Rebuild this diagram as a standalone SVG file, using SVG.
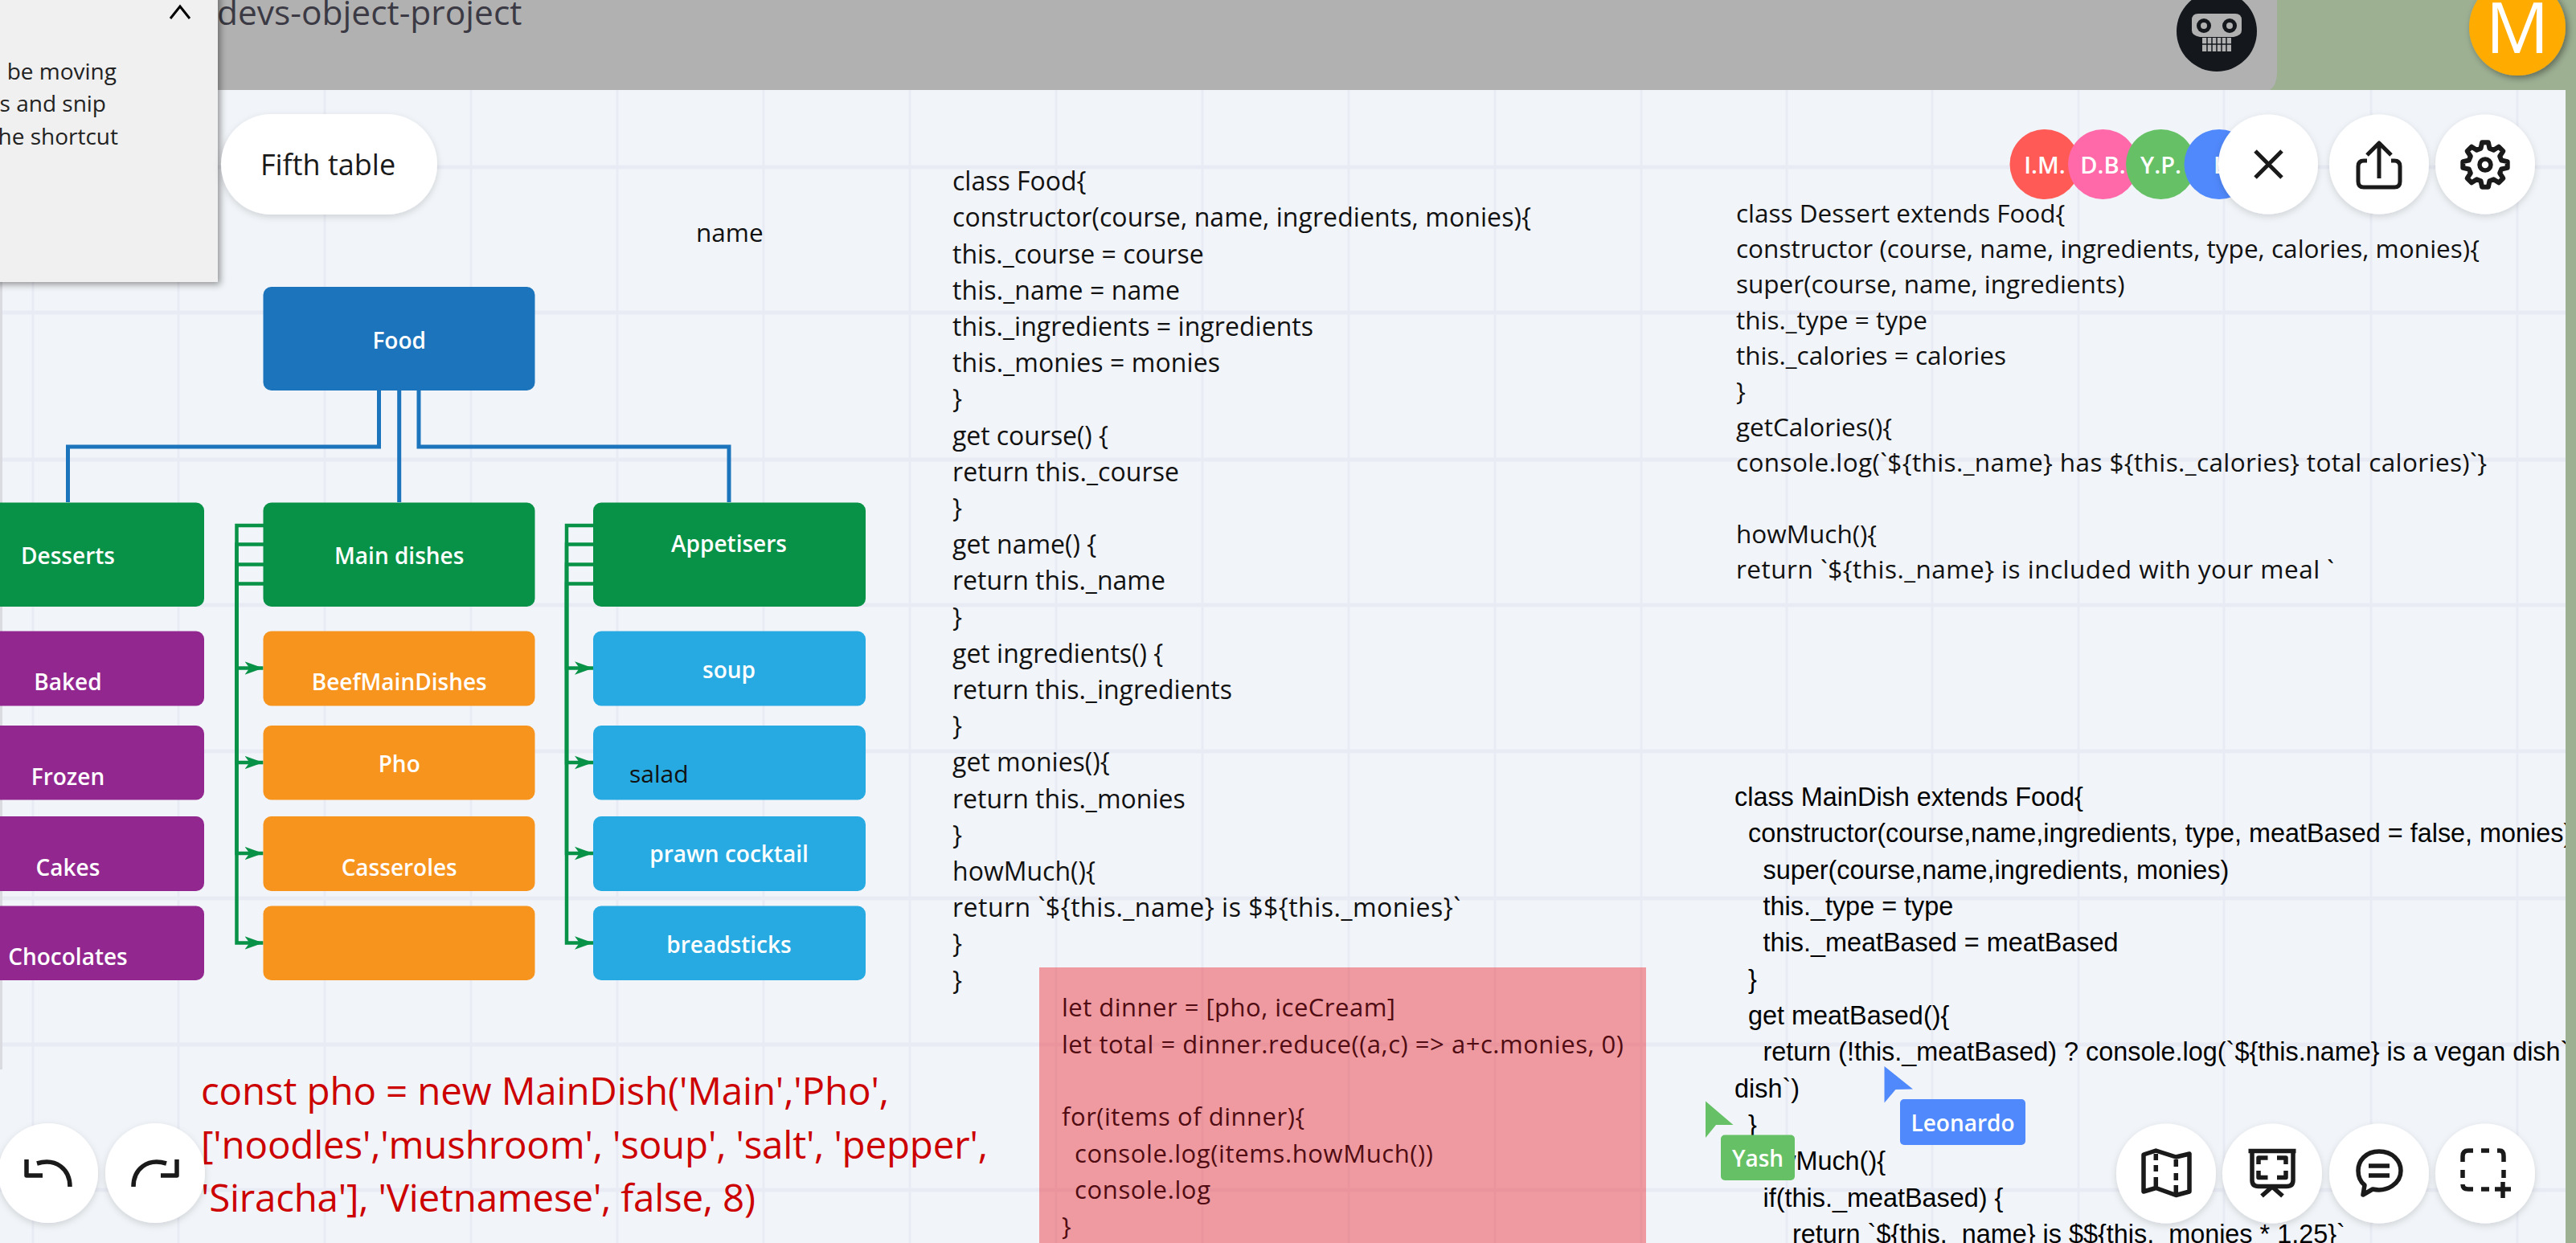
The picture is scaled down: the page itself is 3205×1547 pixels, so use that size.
<svg xmlns="http://www.w3.org/2000/svg" width="3205" height="1547" viewBox="0 0 3205 1547">
<defs>
<style>
text{font-family:"Open Sans","Noto Sans","Liberation Sans",sans-serif}
.nl{fill:#fff;font-size:28px;font-weight:600;text-anchor:middle;dominant-baseline:central}
.code{font-size:32px;fill:#111}
.code2{font-size:31.5px;fill:#111}
.arial{font-family:"Liberation Sans",Arial,sans-serif;font-size:32.4px;fill:#000}
.red{font-size:47.5px;fill:#c00}
.pink{font-size:31px;fill:#500c12}
.btn{fill:#fff;filter:url(#sh)}
.ic{fill:none;stroke:#1a1a1a;stroke-width:5.5;stroke-linejoin:round}
.gv{stroke:#e9ebf4;stroke-width:3}
.gh{stroke:#e9ebf4;stroke-width:5}
.blue{fill:none;stroke:#1c75bc;stroke-width:5}
.green{fill:none;stroke:#079248;stroke-width:4.5;marker-end:url(#ah)}
.av{fill:#fff;font-size:29px;font-weight:600;text-anchor:middle;dominant-baseline:central}
.cat{fill:#079248}.pur{fill:#92278f}.org{fill:#f7941e}.cy{fill:#27aae1}
</style>
<marker id="ah" markerUnits="userSpaceOnUse" markerWidth="24" markerHeight="24" refX="23" refY="12" orient="auto"><path d="M0 3.7L23 12L0 20.3L6 12Z" fill="#079248"/></marker>
<filter id="sh" x="-20%" y="-20%" width="140%" height="140%"><feDropShadow dx="0" dy="3" stdDeviation="4" flood-color="#000" flood-opacity=".14"/></filter>
<filter id="sh2" x="-20%" y="-20%" width="140%" height="140%"><feDropShadow dx="3" dy="3" stdDeviation="4" flood-color="#000" flood-opacity=".4"/></filter>
<clipPath id="cv"><rect x="0" y="112" width="3192" height="1435"/></clipPath>
</defs>
<rect width="3205" height="1547" fill="#9db092"/>
<g id="canvas">
<rect x="0" y="112" width="3192" height="1435" fill="#f1f4f8"/>
<path class="gv" d="M41 112V1547M222 112V1547M404 112V1547M586 112V1547M768 112V1547M950 112V1547M1132 112V1547M1314 112V1547M1496 112V1547M1678 112V1547M1860 112V1547M2042 112V1547M2223 112V1547M2404 112V1547M2586 112V1547M2767 112V1547M2950 112V1547M3132 112V1547"/>
<path class="gh" d="M0 208H3192M0 389H3192M0 572H3192M0 753H3192M0 935H3192M0 1118H3192M0 1300H3192M0 1481H3192"/>
<rect x="0" y="351" width="3" height="980" fill="#d9dbe0"/>
</g>
<g id="header">
<path d="M0 0H2833V90Q2833 106 2824 112H0Z" fill="#b1b1b1"/>
<text x="270" y="31" font-size="42.5" fill="#3b3a44">devs-object-project</text>
</g>
<g id="connectors">
<path class="blue" d="M471.5 486V556H84.5V625"/>
<path class="blue" d="M496.7 486V625"/>
<path class="blue" d="M521 486V556H907V625"/>
<path class="green" d="M328 654H294.5V831.5H327.5"/>
<path class="green" d="M328 677.5H294.5V949H327.5"/>
<path class="green" d="M328 702.5H294.5V1062H327.5"/>
<path class="green" d="M328 726.5H294.5V1173.5H327.5"/>
<path class="green" d="M738 654H705V831.5H738"/>
<path class="green" d="M738 677.5H705V949H738"/>
<path class="green" d="M738 702.5H705V1062H738"/>
<path class="green" d="M738 726.5H705V1173.5H738"/>
</g>
<g id="n-food"><rect x="327.5" y="357" width="338" height="129" rx="10" fill="#1c75bc"/><text class="nl" x="496.7" y="423">Food</text></g>
<g id="n-desserts"><rect x="-20" y="625.5" width="274" height="129.5" rx="10" class="cat"/><text class="nl" x="84.5" y="691">Desserts</text></g>
<g id="n-main"><rect x="327.5" y="625.5" width="338" height="129.5" rx="10" class="cat"/><text class="nl" x="496.7" y="691">Main dishes</text></g>
<g id="n-app"><rect x="738" y="625.5" width="339" height="129.5" rx="10" class="cat"/><text class="nl" x="907" y="676">Appetisers</text></g>
<g id="n-baked"><rect x="-20" y="785.5" width="274" height="93" rx="10" class="pur"/><text class="nl" x="84.5" y="847.5">Baked</text></g>
<g id="n-frozen"><rect x="-20" y="903" width="274" height="92.5" rx="10" class="pur"/><text class="nl" x="84.5" y="965.5">Frozen</text></g>
<g id="n-cakes"><rect x="-20" y="1016" width="274" height="93" rx="10" class="pur"/><text class="nl" x="84.5" y="1078.5">Cakes</text></g>
<g id="n-choc"><rect x="-20" y="1127.5" width="274" height="92.5" rx="10" class="pur"/><text class="nl" x="84.5" y="1189.5">Chocolates</text></g>
<g id="n-beef"><rect x="327.5" y="785.5" width="338" height="93" rx="10" class="org"/><text class="nl" x="496.7" y="847.5">BeefMainDishes</text></g>
<g id="n-pho"><rect x="327.5" y="903" width="338" height="92.5" rx="10" class="org"/><text class="nl" x="496.7" y="950">Pho</text></g>
<g id="n-cass"><rect x="327.5" y="1016" width="338" height="93" rx="10" class="org"/><text class="nl" x="496.7" y="1078.5">Casseroles</text></g>
<g id="n-blank"><rect x="327.5" y="1127.5" width="338" height="92.5" rx="10" class="org"/></g>
<g id="n-soup"><rect x="738" y="785.5" width="339" height="93" rx="10" class="cy"/><text class="nl" x="907" y="832.5">soup</text></g>
<g id="n-salad"><rect x="738" y="903" width="339" height="92.5" rx="10" class="cy"/><text x="783" y="974" font-size="30" fill="#111">salad</text></g>
<g id="n-prawn"><rect x="738" y="1016" width="339" height="93" rx="10" class="cy"/><text class="nl" x="907" y="1062">prawn cocktail</text></g>
<g id="n-bread"><rect x="738" y="1127.5" width="339" height="92.5" rx="10" class="cy"/><text class="nl" x="907" y="1174.5">breadsticks</text></g>
<g id="n-name"><text x="866" y="301" font-size="31.5" fill="#111">name</text></g>
<g id="code-food">
<text class="code" x="1185" y="237">class Food{</text>
<text class="code" x="1185" y="282" textLength="720">constructor(course, name, ingredients, monies){</text>
<text class="code" x="1185" y="327.5">this._course = course</text>
<text class="code" x="1185" y="372.5" textLength="283">this._name = name</text>
<text class="code" x="1185" y="418" textLength="449">this._ingredients = ingredients</text>
<text class="code" x="1185" y="463" textLength="333">this._monies = monies</text>
<text class="code" x="1185" y="508">}</text>
<text class="code" x="1185" y="553.5" textLength="194">get course() {</text>
<text class="code" x="1185" y="598.5" textLength="282">return this._course</text>
<text class="code" x="1185" y="644">}</text>
<text class="code" x="1185" y="689">get name() {</text>
<text class="code" x="1185" y="734">return this._name</text>
<text class="code" x="1185" y="779.5">}</text>
<text class="code" x="1185" y="824.5">get ingredients() {</text>
<text class="code" x="1185" y="870">return this._ingredients</text>
<text class="code" x="1185" y="915">}</text>
<text class="code" x="1185" y="960">get monies(){</text>
<text class="code" x="1185" y="1005.5">return this._monies</text>
<text class="code" x="1185" y="1050.5">}</text>
<text class="code" x="1185" y="1096">howMuch(){</text>
<text class="code" x="1185" y="1141" textLength="632">return `${this._name} is $${this._monies}`</text>
<text class="code" x="1185" y="1186">}</text>
<text class="code" x="1185" y="1231.5">}</text>
</g>
<g id="code-dessert">
<text class="code2" x="2160" y="276.5">class Dessert extends Food{</text>
<text class="code2" x="2160" y="321" textLength="925">constructor (course, name, ingredients, type, calories, monies){</text>
<text class="code2" x="2160" y="365">super(course, name, ingredients)</text>
<text class="code2" x="2160" y="409.5">this._type = type</text>
<text class="code2" x="2160" y="454">this._calories = calories</text>
<text class="code2" x="2160" y="498">}</text>
<text class="code2" x="2160" y="542.5">getCalories(){</text>
<text class="code2" x="2160" y="587" textLength="934">console.log(`${this._name} has ${this._calories} total calories)`}</text>
<text class="code2" x="2160" y="675.5">howMuch(){</text>
<text class="code2" x="2160" y="720" textLength="744">return `${this._name} is included with your meal `</text>
</g>
<g id="code-main" clip-path="url(#cv)">
<text class="arial" x="2158" y="1003">class MainDish extends Food{</text>
<text class="arial" x="2175" y="1048">constructor(course,name,ingredients, type, meatBased = false, monies){</text>
<text class="arial" x="2193.5" y="1093.5">super(course,name,ingredients, monies)</text>
<text class="arial" x="2193.5" y="1139">this._type = type</text>
<text class="arial" x="2193.5" y="1184">this._meatBased = meatBased</text>
<text class="arial" x="2175" y="1229.5">}</text>
<text class="arial" x="2175" y="1275">get meatBased(){</text>
<text class="arial" x="2193.5" y="1320">return (!this._meatBased) ? console.log(`${this.name} is a vegan dish`</text>
<text class="arial" x="2158" y="1365.5">dish`)</text>
<text class="arial" x="2175" y="1411">}</text>
<text class="arial" x="2175" y="1456">howMuch(){</text>
<text class="arial" x="2193.5" y="1501.5">if(this._meatBased) {</text>
<text class="arial" x="2230" y="1547">return `${this._name} is $${this._monies * 1.25}`</text>
</g>
<g id="code-red">
<text class="red" x="250" y="1375" textLength="856">const pho = new MainDish('Main','Pho',</text>
<text class="red" x="250" y="1442" textLength="979">['noodles','mushroom', 'soup', 'salt', 'pepper',</text>
<text class="red" x="250" y="1508" textLength="690">'Siracha'], 'Vietnamese', false, 8)</text>
</g>
<g id="pink-note">
<rect x="1293" y="1204" width="755" height="343" fill="#ec2d35" opacity=".45"/>
<text class="pink" x="1321" y="1265" textLength="415">let dinner = [pho, iceCream]</text>
<text class="pink" x="1321" y="1311" textLength="699">let total = dinner.reduce((a,c) =&gt; a+c.monies, 0)</text>
<text class="pink" x="1321" y="1401" textLength="302">for(items of dinner){</text>
<text class="pink" x="1337" y="1446.5" textLength="446">console.log(items.howMuch())</text>
<text class="pink" x="1337" y="1492" textLength="169">console.log</text>
<text class="pink" x="1321" y="1537">}</text>
</g>
<g id="tip-panel">
<rect x="-10" y="-10" width="281" height="361" fill="#f0f0f0" filter="url(#sh2)"/>
<path d="M212 23L224 8L236 23" fill="none" stroke="#000" stroke-width="3"/>
<text x="145" y="99" text-anchor="end" font-size="28" fill="#222">be moving</text>
<text x="132" y="139" text-anchor="end" font-size="28" fill="#222">s and snip</text>
<text x="147" y="180" text-anchor="end" font-size="28" fill="#222">he shortcut</text>
</g>
<g id="btn-fifth"><rect x="275" y="142" width="269" height="125" rx="62.5" class="btn"/><text x="408" y="218" text-anchor="middle" font-size="36" font-weight="500" fill="#1a1a1a">Fifth table</text></g>
<g id="skull">
<circle cx="2758" cy="39" r="50" fill="#14181d"/>
<path d="M2735 17H2781Q2789 17 2789 25V38Q2789 44 2779 46H2737Q2727 44 2727 38V25Q2727 17 2735 17Z" fill="#b1b1b1"/>
<circle cx="2742" cy="32" r="9" fill="#14181d"/><circle cx="2742" cy="32" r="4" fill="#b1b1b1"/>
<circle cx="2774" cy="32" r="9" fill="#14181d"/><circle cx="2774" cy="32" r="4" fill="#b1b1b1"/>
<rect x="2740" y="47" width="36" height="17" fill="#b1b1b1"/>
<path d="M2746 47V64M2752 47V64M2758 47V64M2764 47V64M2770 47V64M2740 55H2776" stroke="#14181d" stroke-width="1.5"/>
</g>
<g id="user-m"><circle cx="3132" cy="34" r="60" fill="#ffab00" filter="url(#sh2)"/><text x="3132" y="66" text-anchor="middle" font-size="88" font-weight="400" fill="#fff">M</text></g>
<g id="avatars">
<circle cx="2544" cy="204.5" r="43.5" fill="#ff5a55"/><text class="av" x="2544" y="204">I.M.</text>
<circle cx="2616.5" cy="204.5" r="43.5" fill="#ff69a9"/><text class="av" x="2616.5" y="204">D.B.</text>
<circle cx="2688.5" cy="204.5" r="43.5" fill="#66c166"/><text class="av" x="2688.5" y="204">Y.P.</text>
<circle cx="2761" cy="204.5" r="43.5" fill="#5089fc"/><text class="av" x="2754" y="204" style="text-anchor:start">L</text>
</g>
<g id="btn-close"><circle cx="2822" cy="204.5" r="62" class="btn"/><path class="ic" d="M2806 188L2839 221M2839 188L2806 221" style="stroke-width:5"/></g>
<g id="btn-share"><circle cx="2960" cy="204.5" r="62" class="btn"/><path class="ic" d="M2945 200H2941Q2934 200 2934 207V226Q2934 233 2941 233H2979Q2986 233 2986 226V207Q2986 200 2979 200H2975M2960 222V179M2945 193L2960 178L2975 193" style="stroke-width:5"/></g>
<g id="btn-settings"><circle cx="3092" cy="204.5" r="62" class="btn"/><g transform="translate(3092 205)"><circle class="ic" r="7"/><path class="ic" style="stroke-width:6" d="M-5.44-20.28L-3.9-27.7L3.9-27.7L5.44-20.28L10.5-18.19L16.85-22.36L22.36-16.85L18.19-10.5L20.28-5.44L27.7-3.9L27.7 3.9L20.28 5.44L18.19 10.5L22.36 16.85L16.85 22.36L10.5 18.19L5.44 20.28L3.9 27.7L-3.9 27.7L-5.44 20.28L-10.5 18.19L-16.85 22.36L-22.36 16.85L-18.19 10.5L-20.28 5.44L-27.7 3.9L-27.7-3.9L-20.28-5.44L-18.19-10.5L-22.36-16.85L-16.85-22.36L-10.5-18.19Z"/></g></g>
<g id="btn-undo"><circle cx="60" cy="1460" r="62" class="btn"/><path class="ic" d="M87 1477C87 1455 70 1441 46 1448M33 1443V1463H53"/></g>
<g id="btn-redo"><circle cx="193" cy="1460" r="62" class="btn"/><path class="ic" d="M166 1477C166 1455 183 1441 207 1448M220 1443V1463H200"/></g>
<g id="btn-map"><circle cx="2695" cy="1460.5" r="62" class="btn"/><path class="ic" d="M2667 1437L2682.3 1432L2707.3 1440L2724 1436V1483L2707.3 1487.5L2682.3 1478.5L2667 1483ZM2682.3 1436V1444M2682.3 1450V1458M2682.3 1465V1477M2707.3 1443V1452M2707.3 1460V1469M2707.3 1475V1486"/></g>
<g id="btn-present"><circle cx="2827" cy="1460.5" r="62" class="btn"/><path class="ic" d="M2797.5 1432.5H2856.5M2802 1433V1469Q2802 1476.5 2810 1476.5H2845Q2853 1476.5 2853 1469V1433M2827 1477L2814 1488.5M2827 1477L2840 1488.5M2810 1449V1441H2821.5M2833 1441H2844V1449M2810 1457V1465.5H2821.5M2833 1465.5H2844V1457"/></g>
<g id="btn-comment"><circle cx="2960" cy="1460.5" r="62" class="btn"/><path class="ic" d="M2960 1433C2943 1433 2934 1445 2934 1457C2934 1465 2937 1471 2942 1475L2940 1487L2952 1480C2970 1484 2987 1473 2987 1457C2987 1445 2977 1433 2960 1433ZM2947 1451H2973M2947 1463H2973"/></g>
<g id="btn-frame"><circle cx="3092" cy="1460.5" r="62" class="btn"/><path class="ic" d="M3064 1446V1439Q3064 1432 3071 1432H3077M3087 1432H3097M3107 1432H3110Q3115 1432 3115 1439V1446M3115 1456V1466M3064 1456V1466M3064 1474Q3064 1480 3071 1480H3077M3087 1480H3097M3114 1471V1491M3104 1480H3124"/></g>
<g id="cursor-leonardo"><path d="M2344.5 1327L2380 1355.5L2358.5 1356L2344.5 1372.5Z" fill="#5089fc"/><rect x="2364" y="1368" width="156" height="57" rx="5" fill="#5089fc"/><text class="nl" x="2442" y="1397">Leonardo</text></g>
<g id="cursor-yash"><path d="M2122 1370.5L2156.5 1400L2135 1400L2122 1416Z" fill="#66c166"/><rect x="2141" y="1412.5" width="92" height="56.5" rx="5" fill="#66c166"/><text class="nl" x="2187" y="1441">Yash</text></g>
</svg>
